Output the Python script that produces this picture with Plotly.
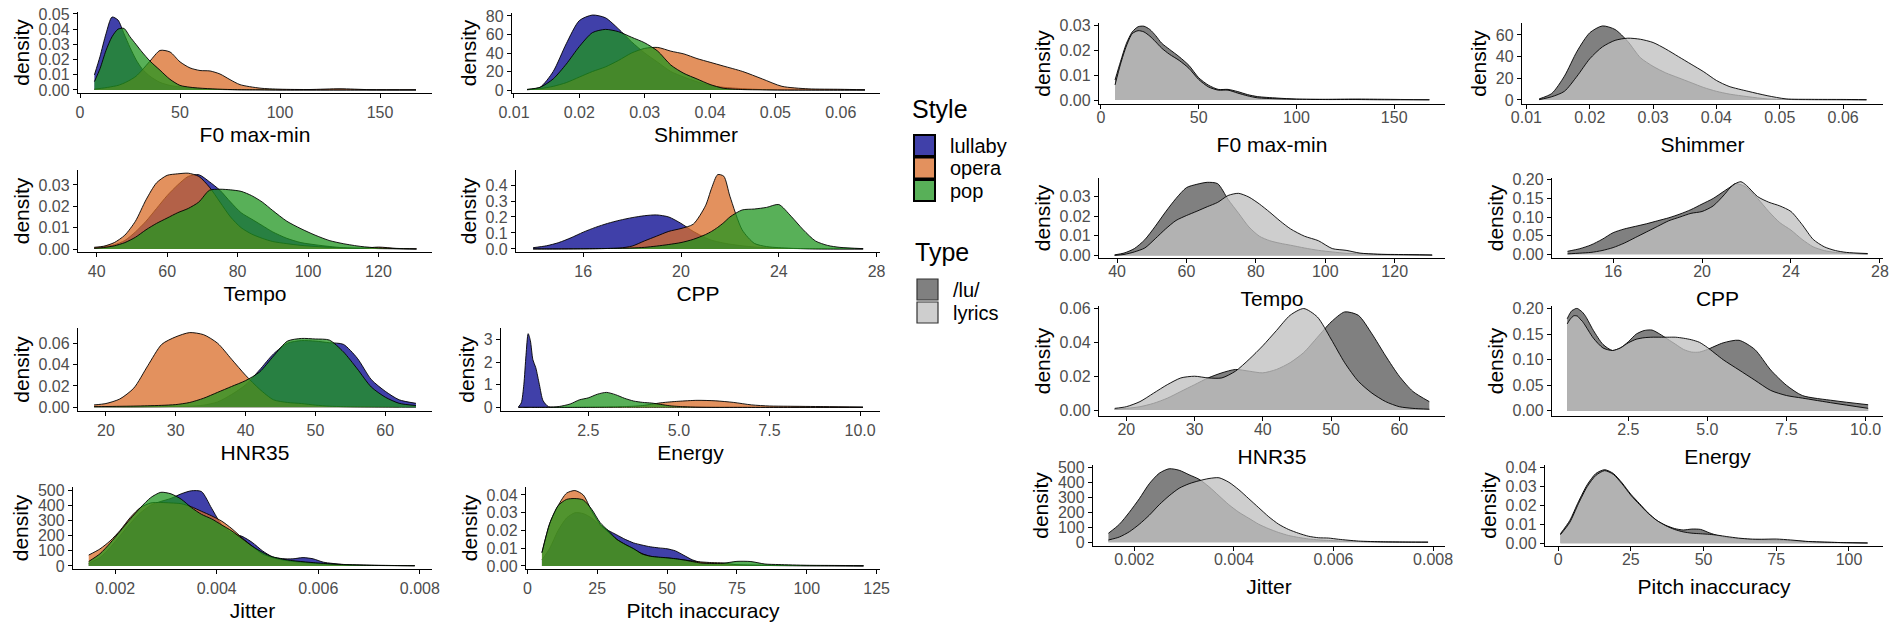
import plotly.graph_objects as go

W, H = 1901, 630

# ---------------- data (density curves) ----------------
# F0 max-min
f0_x = [7.2, 10, 13, 16, 19, 22, 25, 28, 31, 35, 40, 45, 50, 55, 60, 65, 70, 75, 80, 90, 100, 115, 130, 145, 168]
f0_lullaby = [.0099, .022, .037, .048, .046, .037, .028, .020, .014, .009, .005, .003, .002, .0012, .0007, .0004, .0003, .0002, .0001, .0001, 0, 0, 0, 0, 0]
f0_opera = [.0005, .001, .0015, .0022, .003, .0045, .0065, .009, .013, .019, .026, .025, .0185, .0145, .0128, .0125, .0105, .0068, .0035, .0012, .0005, .0003, .0008, .0002, .0001]
f0_pop = [.0055, .014, .026, .035, .040, .0405, .035, .030, .025, .019, .013, .007, .003, .0018, .0012, .0008, .0005, .0003, .0002, .0001, 0, 0, 0, 0, 0]
f0_lu = [.0081, .0155, .0228, .0275, .0296, .0298, .0285, .026, .023, .0205, .0175, .0140, .009, .006, .0043, .0043, .0034, .0022, .0014, .0008, .0004, .0003, .0004, .0003, .0001]
f0_lyrics = [.0061, .0145, .0218, .0268, .028, .0275, .0258, .0235, .021, .0185, .016, .0128, .0083, .0053, .004, .004, .0028, .0017, .0009, .0005, .0003, .0002, .0002, .0001, .0001]

# Shimmer
sh_x = [0.012, 0.014, 0.016, 0.018, 0.020, 0.022, 0.024, 0.026, 0.028, 0.030, 0.032, 0.034, 0.036, 0.038, 0.040, 0.042, 0.045, 0.048, 0.051, 0.055, 0.060, 0.0637]
sh_lullaby = [0.5, 3, 20, 50, 75, 81, 78, 66, 52, 40, 30, 20, 14, 9, 5, 3, 1.5, 0.5, 0.2, 0.1, 0, 0]
sh_opera = [.3, 1.5, 4, 8, 14, 20, 25, 32, 40, 45, 46, 42, 39, 34, 30, 26, 20, 12, 4, 1.3, .8, .3]
sh_pop = [.7, 3, 12, 28, 47, 62, 65.5, 63, 57, 51, 42, 27, 18, 12, 6, 2, .5, .2, 0, 0, 0, 0]
sh_lu = [1, 6, 22, 45, 62, 68.3, 65, 54, 39, 31, 25, 20.5, 16, 11.5, 8, 5.5, 3, 1, .5, .3, .2, .1]
sh_lyrics = [.3, 3, 8, 22, 38, 49, 55, 57, 56, 53, 47, 40, 33, 26, 18, 12.5, 8, 4, 1, .6, .5, .3]

# Tempo
te_x = [39.3, 42, 45, 48, 51, 54, 57, 60, 63, 66, 69, 72, 75, 78, 81, 84, 87, 90, 94, 98, 102, 106, 110, 115, 120, 125, 130.8]
te_lullaby = [.0005, .001, .002, .004, .008, .013, .019, .025, .030, .034, .0348, .0315, .0275, .022, .017, .014, .011, .008, .005, .003, .002, .0012, .0006, .0004, .0002, .0001, 0]
te_opera = [.0008, .0013, .003, .0065, .013, .023, .031, .0345, .0352, .0355, .034, .029, .022, .015, .010, .007, .005, .0035, .0025, .0017, .0012, .0008, .0005, .0003, .0009, .0003, .0001]
te_pop = [.0003, .0007, .0015, .003, .0055, .009, .012, .0145, .017, .019, .022, .0275, .028, .0277, .027, .025, .022, .018, .013, .0095, .0065, .004, .0025, .0012, .0005, .0002, 0]
te_lu = [.0003, .0012, .0035, .008, .0148, .0222, .029, .0345, .0362, .0372, .0365, .0285, .0215, .0145, .0098, .0075, .0062, .0052, .0038, .0026, .0018, .0011, .0009, .0006, .0004, .0003, .0002]
te_lyrics = [0, .0005, .0018, .0038, .0085, .0135, .0178, .0203, .0225, .0248, .027, .0305, .0316, .0297, .0262, .022, .0175, .0135, .0098, .0075, .0035, .0026, .0012, .0006, .0005, .0004, .0002]

# CPP
cp_x = [13.95, 14.5, 15, 15.5, 16, 16.5, 17, 17.5, 18, 18.5, 19, 19.5, 20, 20.5, 21, 21.25, 21.5, 21.75, 22, 22.5, 23, 23.5, 24, 24.5, 25, 25.5, 26, 26.5, 27.45]
cp_lullaby = [.008, .02, .04, .07, .105, .135, .16, .18, .196, .208, .213, .2, .16, .11, .07, .055, .045, .037, .03, .02, .012, .008, .005, .003, .002, .001, .0005, .0003, 0]
cp_opera = [0, 0, .0003, .0006, .001, .0015, .003, .006, .018, .05, .08, .11, .128, .155, .27, .38, .465, .455, .33, .12, .035, .015, .008, .004, .002, .001, .0005, .0003, 0]
cp_pop = [0, 0, 0, .0005, .001, .002, .003, .004, .006, .01, .018, .028, .04, .06, .09, .11, .135, .165, .2, .244, .25, .26, .278, .205, .12, .05, .022, .01, .002]
cp_lu = [.008, .015, .025, .04, .058, .068, .075, .082, .09, .098, .108, .12, .135, .15, .17, .18, .19, .187, .18, .15, .115, .085, .065, .04, .02, .01, .005, .003, .001]
cp_lyrics = [.001, .003, .005, .01, .018, .03, .045, .06, .075, .09, .1, .11, .115, .13, .16, .178, .19, .195, .185, .155, .14, .13, .115, .08, .04, .02, .01, .005, .002]

# HNR35
hn_x = [18.3, 20, 22, 24, 26, 28, 30, 32, 34, 36, 38, 40, 42, 44, 46, 48, 50, 52, 54, 56, 58, 60, 62, 64.4]
hn_lullaby = [.0006, .0005, .0004, .0004, .0005, .0006, .0008, .001, .002, .005, .012, .021, .035, .05, .06, .0625, .062, .0605, .059, .046, .026, .015, .007, .0037]
hn_opera = [.0022, .0035, .0078, .018, .039, .059, .066, .07, .068, .06, .045, .03, .017, .007, .0045, .0035, .002, .001, .0006, .0004, .0003, .0002, .0001, .0001]
hn_pop = [.0006, .0007, .0009, .0011, .0014, .0018, .0025, .0045, .0085, .014, .0195, .025, .033, .048, .062, .0645, .064, .063, .052, .036, .019, .0095, .0037, .0016]
hn_lu = [.0005, .001, .002, .004, .007, .011, .015, .019, .022, .024, .023, .022, .024, .028, .034, .043, .052, .058, .056, .045, .032, .02, .011, .005]
hn_lyrics = [.001, .002, .005, .01, .015, .019, .02, .019, .019, .023, .03, .038, .047, .056, .06, .055, .042, .028, .017, .01, .005, .002, .001, .0005]

# Energy
en_x = [0.57, 0.65, 0.72, 0.78, 0.84, 0.9, 0.97, 1.05, 1.15, 1.25, 1.4, 1.7, 2.0, 2.25, 2.5, 2.75, 3.0, 3.25, 3.5, 3.75, 4.0, 4.25, 4.5, 4.75, 5.0, 5.5, 6.0, 6.5, 7.0, 7.5, 8.0, 9.0, 10.08]
en_lullaby = [.02, .2, 1.0, 2.3, 3.25, 2.95, 2.1, 1.75, 1.0, .3, .03, 0, 0, 0, 0, 0, 0, 0, 0, 0, 0, 0, 0, 0, 0, 0, 0, 0, 0, 0, 0, 0, 0]
en_opera = [0, 0, 0, 0, 0, 0, 0, 0, 0, 0, 0, 0, .002, .005, .008, .012, .018, .025, .035, .05, .08, .14, .2, .24, .27, .31, .29, .22, .11, .06, .05, .035, .015]
en_pop = [0, 0, 0, 0, 0, 0, 0, 0, 0, 0, .005, .04, .15, .33, .42, .58, .66, .56, .4, .28, .22, .19, .13, .07, .04, .01, 0, 0, 0, 0, 0, 0, 0]
en_lu = [.18, .19, .196, .198, .2, .2, .197, .193, .185, .174, .157, .13, .118, .123, .135, .15, .157, .158, .15, .14, .13, .12, .115, .115, .12, .133, .138, .12, .08, .05, .03, .02, .012]
en_lyrics = [.17, .178, .183, .186, .186, .185, .18, .175, .166, .156, .142, .123, .118, .123, .133, .14, .143, .144, .144, .144, .144, .142, .139, .134, .124, .1, .08, .06, .04, .03, .025, .015, .005]

# Jitter
ji_x = [.00148, .0017, .0019, .0021, .0023, .0025, .0027, .0029, .0031, .0033, .0035, .0037, .0039, .0041, .0043, .0045, .0047, .0049, .0051, .0053, .0055, .0057, .0059, .0061, .0065, .007, .0075, .0079]
ji_lullaby = [18, 55, 120, 200, 280, 350, 400, 425, 445, 475, 495, 490, 380, 270, 215, 195, 155, 100, 60, 48, 47, 55, 47, 25, 10, 5, 3, 2]
ji_opera = [72, 112, 165, 235, 320, 385, 415, 418, 415, 410, 390, 360, 330, 295, 245, 185, 130, 80, 55, 40, 30, 24, 18, 13, 7, 4, 3, 2]
ji_pop = [30, 80, 150, 230, 310, 385, 450, 485, 475, 440, 385, 340, 310, 270, 230, 180, 130, 90, 60, 45, 35, 28, 22, 17, 9, 4, 2, 1]
ji_lu = [60, 120, 200, 290, 390, 460, 490, 480, 450, 420, 370, 310, 250, 200, 160, 120, 90, 65, 45, 32, 22, 16, 12, 9, 5, 2, 1, .5]
ji_lyrics = [15, 35, 70, 120, 180, 250, 310, 360, 390, 410, 425, 430, 400, 350, 290, 230, 170, 120, 85, 60, 40, 30, 28, 20, 8, 3, 1, .5]

# Pitch inaccuracy (style split)
pi_x = [5.2, 8, 11, 14, 17, 20, 23, 26, 29, 32, 35, 38, 41, 44, 47, 50, 53, 56, 59, 62, 66, 70, 75, 80, 85, 90, 100, 110, 120.3]
pi_lullaby = [.0034, .01, .02, .027, .030, .0295, .027, .023, .02, .0175, .015, .013, .0118, .0108, .0102, .0097, .0085, .006, .0035, .002, .0012, .0008, .0006, .0005, .0004, .0003, .0002, .0001, 0]
pi_opera = [.0075, .024, .034, .041, .0425, .04, .031, .0235, .019, .015, .012, .0095, .007, .0055, .0048, .0045, .004, .0034, .0028, .0023, .0019, .0017, .0007, .0004, .0003, .0002, .0001, .0001, 0]
pi_pop = [.0075, .024, .034, .0375, .038, .0372, .032, .0245, .0198, .015, .0122, .0098, .0068, .0055, .005, .0046, .0041, .0034, .0025, .0017, .0014, .0015, .0026, .0025, .0011, .0008, .0004, .0003, .0002]
# Pitch inaccuracy (type split)
pt_x = [0.8, 4, 7, 10, 13, 16, 19, 22, 25, 28, 31, 34, 37, 40, 43, 46, 49, 52, 55, 58, 62, 66, 70, 75, 80, 85, 90, 98, 106.4]
pt_lu = [.005, .012, .022, .031, .037, .039, .037, .032, .026, .021, .016, .012, .0095, .0078, .007, .0075, .0073, .0055, .004, .003, .0024, .002, .0018, .0017, .0013, .0009, .0006, .0003, .0001]
pt_lyrics = [.0045, .011, .021, .030, .036, .0385, .0365, .0315, .0255, .0205, .0158, .012, .0093, .0073, .006, .0053, .005, .0047, .0042, .0035, .0027, .0022, .0021, .0022, .0017, .001, .0006, .0003, .0001]

styles = ["lullaby", "opera", "pop"]
types = ["/lu/", "lyrics"]

# ---------------- styling ----------------
style_fill = {"lullaby": "rgba(22,22,150,0.82)", "opera": "rgba(218,108,40,0.75)", "pop": "rgba(32,150,32,0.75)"}
type_fill = {"/lu/": "rgba(92,92,92,0.78)", "lyrics": "rgba(192,192,192,0.78)"}
FONT = "Liberation Sans, Arial, Helvetica, sans-serif"

# panels: (xlabel, x grid, series, plot box px [x0, x1, ytop, ybot], x range, y range, xticks, xfmt, yticks, yfmt)
left_panels = [
    ("F0 max-min", f0_x, [f0_lullaby, f0_opera, f0_pop], [78, 432, 12, 93], [-1, 176], [-0.002, 0.0513],
     [0, 50, 100, 150], None, [0, .01, .02, .03, .04, .05], "%.2f"),
    ("Shimmer", sh_x, [sh_lullaby, sh_opera, sh_pop], [512, 880, 13, 93], [0.0097, 0.066], [-3.2, 83.2],
     [.01, .02, .03, .04, .05, .06], "%.2f", [0, 20, 40, 60, 80], "%d"),
    ("Tempo", te_x, [te_lullaby, te_opera, te_pop], [78, 432, 170, 252], [34.7, 135.2], [-0.0014, 0.037],
     [40, 60, 80, 100, 120], None, [0, .01, .02, .03], "%.2f"),
    ("CPP", cp_x, [cp_lullaby, cp_opera, cp_pop], [516, 880, 170, 252], [13.25, 28.14], [-0.019, 0.494],
     [16, 20, 24, 28], None, [0, .1, .2, .3, .4], "%.1f"),
    ("HNR35", hn_x, [hn_lullaby, hn_opera, hn_pop], [78, 432, 328, 411], [16, 66.7], [-0.0035, 0.0743],
     [20, 30, 40, 50, 60], None, [0, .02, .04, .06], "%.2f"),
    ("Energy", en_x, [en_lullaby, en_opera, en_pop], [501, 880, 328, 411], [0.09, 10.55], [-0.16, 3.5],
     [2.5, 5, 7.5, 10], "%.1f", [0, 1, 2, 3], "%d"),
    ("Jitter", ji_x, [ji_lullaby, ji_opera, ji_pop], [73, 432, 487, 569], [0.00117, 0.00824], [-20, 520],
     [.002, .004, .006, .008], "%.3f", [0, 100, 200, 300, 400, 500], "%d"),
    ("Pitch inaccuracy", pi_x, [pi_lullaby, pi_opera, pi_pop], [526, 880, 487, 569], [-0.5, 126.2], [-0.0017, 0.0445],
     [0, 25, 50, 75, 100, 125], None, [0, .01, .02, .03, .04], "%.2f"),
]
right_panels = [
    ("F0 max-min", f0_x, [f0_lu, f0_lyrics], [1099, 1445, 23, 104], [-1, 176], [-0.0016, 0.0311],
     [0, 50, 100, 150], None, [0, .01, .02, .03], "%.2f"),
    ("Shimmer", sh_x, [sh_lu, sh_lyrics], [1522, 1883, 23, 104], [0.0093, 0.0663], [-3.7, 71],
     [.01, .02, .03, .04, .05, .06], "%.2f", [0, 20, 40, 60], "%d"),
    ("Tempo", te_x, [te_lu, te_lyrics], [1099, 1445, 178, 258], [34.8, 134.5], [-0.0013, 0.0394],
     [40, 60, 80, 100, 120], None, [0, .01, .02, .03], "%.2f"),
    ("CPP", cp_x, [cp_lu, cp_lyrics], [1552, 1883, 178, 258], [13.25, 28.14], [-0.01, 0.205],
     [16, 20, 24, 28], None, [0, .05, .1, .15, .2], "%.2f"),
    ("HNR35", hn_x, [hn_lu, hn_lyrics], [1099, 1445, 306, 416], [16, 66.7], [-0.0035, 0.0615],
     [20, 30, 40, 50, 60], None, [0, .02, .04, .06], "%.2f"),
    ("Energy", en_x, [en_lu, en_lyrics], [1552, 1883, 306, 416], [0.09, 10.55], [-0.01, 0.205],
     [2.5, 5, 7.5, 10], "%.1f", [0, .05, .1, .15, .2], "%.2f"),
    ("Jitter", ji_x, [ji_lu, ji_lyrics], [1093, 1445, 465, 546], [0.00117, 0.00824], [-25, 515],
     [.002, .004, .006, .008], "%.3f", [0, 100, 200, 300, 400, 500], "%d"),
    ("Pitch inaccuracy", pt_x, [pt_lu, pt_lyrics], [1545, 1883, 465, 546], [-4.5, 111.7], [-0.0015, 0.0415],
     [0, 25, 50, 75, 100], None, [0, .01, .02, .03, .04], "%.2f"),
]

fig = go.Figure()
layout = dict(width=W, height=H, margin=dict(l=0, r=0, t=0, b=0, autoexpand=False),
              paper_bgcolor="white", plot_bgcolor="white",
              font=dict(family=FONT, color="black"), showlegend=False)

def fmt(vals, f):
    if f is None:
        return [str(v) for v in vals]
    return [f % v for v in vals]

idx = 0
for side, group, fills in (("L", left_panels, [style_fill[s] for s in styles]),
                           ("R", right_panels, [type_fill[t] for t in types])):
    lab_off, tit_off = (1, 6) if side == "L" else (-5, 11)
    for (label, xs, series, box, xr, yr, xt, xf, yt, yf) in group:
        idx += 1
        sfx = "" if idx == 1 else str(idx)
        x0, x1, yt0, yb = box
        for ys, fc in zip(series, fills):
            fig.add_trace(go.Scatter(
                x=xs, y=ys, mode="lines", fill="tozeroy", fillcolor=fc,
                line=dict(color="black", width=0.9, shape="spline", smoothing=0.7),
                xaxis="x" + sfx, yaxis="y" + sfx, hoverinfo="skip"))
        common = dict(showline=True, linecolor="black", linewidth=1.3, ticks="outside",
                      ticklen=4, tickwidth=1.1, tickcolor="black", showgrid=False, zeroline=False,
                      tickfont=dict(size=16, color="#4d4d4d", family=FONT))
        layout["xaxis" + sfx] = dict(common, domain=[x0 / W, x1 / W], anchor="y" + sfx, range=xr,
                                     tickvals=xt, ticktext=fmt(xt, xf), ticklabelstandoff=lab_off,
                                     title=dict(text=label, font=dict(size=21, color="black"), standoff=tit_off))
        layout["yaxis" + sfx] = dict(common, domain=[1 - yb / H, 1 - yt0 / H], anchor="x" + sfx, range=yr,
                                     tickvals=yt, ticktext=fmt(yt, yf),
                                     title=dict(text="density", font=dict(size=21, color="black"), standoff=3))

fig.update_layout(**layout)

# ---------------- legends (drawn as keys + labels) ----------------
shapes, annos = [], []
def px_rect(x0, y0, x1, y1, fill, lc, lw):
    shapes.append(dict(type="rect", xref="paper", yref="paper", x0=x0 / W, x1=x1 / W,
                       y0=1 - y1 / H, y1=1 - y0 / H, fillcolor=fill, line=dict(color=lc, width=lw)))
def px_text(x, y, t, size):
    annos.append(dict(xref="paper", yref="paper", x=x / W, y=1 - y / H, text=t, showarrow=False,
                      xanchor="left", yanchor="middle", font=dict(size=size, color="black", family=FONT)))

px_text(910, 109, "Style", 25)
for i, s in enumerate(styles):
    top = 135 + i * 22.5
    px_rect(914, top, 935, top + 21, style_fill[s], "black", 2)
    px_text(948, top + 11, s, 20)
px_text(913, 252, "Type", 25)
for i, t in enumerate(types):
    top = 279 + i * 23
    px_rect(917, top, 938, top + 21, type_fill[t], "#333333", 1.2)
    px_text(951, top + 11, t, 20)

fig.update_layout(shapes=shapes, annotations=annos)
fig.write_html("out.html", config={"displayModeBar": False},
               post_script="document.body.style.margin='0';document.body.style.overflow='hidden';")
